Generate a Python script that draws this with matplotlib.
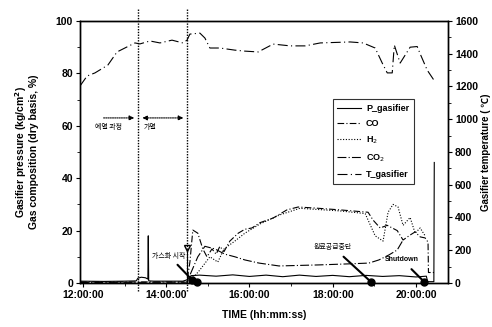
import matplotlib
matplotlib.use("Agg")
import matplotlib.pyplot as plt
from matplotlib.ticker import FuncFormatter, MultipleLocator
import matplotlib.transforms as mtransforms

plt.rcParams['font.family'] = ['Liberation Sans', 'Noto Sans CJK KR', 'DejaVu Sans']

# ---- data (time in hours of day) ----
t_T = [11.93, 12.10, 12.29, 12.60, 12.82, 13.25, 13.37, 13.61, 13.85, 14.14, 14.40, 14.50,
       14.57, 14.81, 14.93, 15.05, 15.29, 15.65, 15.89, 16.21, 16.57, 16.98, 17.34, 17.70,
       18.42, 18.73, 19.02, 19.19, 19.31, 19.43, 19.48, 19.62, 19.86, 20.03, 20.10, 20.27, 20.46]
T_gasifier = [1203, 1264, 1283, 1331, 1411, 1466, 1460, 1478, 1466, 1483, 1466, 1483,
              1520, 1526, 1496, 1435, 1435, 1422, 1416, 1411, 1459, 1448, 1448, 1466,
              1472, 1466, 1435, 1343, 1283, 1283, 1453, 1343, 1440, 1444, 1400, 1300, 1228]

t_CO = [11.93, 14.45, 14.50, 14.57, 14.64, 14.76, 14.88, 14.98, 15.10, 15.20, 15.29, 15.39,
        15.53, 15.73, 15.89, 16.06, 16.25, 16.57, 16.90, 17.17, 17.58, 18.18, 18.85, 18.97,
        19.14, 19.31, 19.55, 19.69, 19.86, 19.98, 20.10, 20.22, 20.29, 20.30, 20.44]
CO = [0.4, 0.4, 0.5, 8, 20.2, 19, 13, 10, 13, 11, 14, 12,
      16, 19, 20.5, 21, 23, 24.8, 27.9, 29, 28.6, 27.9, 27, 24,
      21, 22, 20, 16.4, 18.3, 19.5, 17.6, 17.2, 15.6, 4, 4]

t_H2 = [14.50, 14.57, 14.81, 15.05, 15.24, 15.39, 15.65, 15.89, 16.25, 16.73, 17.21, 18.18,
        18.78, 19.02, 19.21, 19.33, 19.45, 19.57, 19.69, 19.86, 19.98, 20.10, 20.22]
H2 = [0.3, 0.5, 5, 10, 8, 13, 16, 19, 22.5, 26, 28.5, 27.5,
      26.5, 18, 16, 27, 30, 29, 22, 25, 19, 21, 18]

t_CO2 = [11.93, 14.50, 14.57, 14.76, 14.93, 15.17, 15.41, 15.65, 15.89, 16.23, 16.71, 17.67,
         18.39, 18.87, 19.11, 19.35, 19.55, 19.69]
CO2 = [0.2, 0.3, 3, 10, 14, 13, 11, 10, 8.8, 7.6, 6.5, 6.9,
       7.3, 7.6, 8.8, 10.7, 12.6, 16.4]

t_P = [11.93, 12.50, 13.00, 13.28, 13.32, 13.40, 13.50, 13.56, 13.57, 13.58, 13.70, 14.40,
       14.50, 14.60, 14.80, 15.20, 15.60, 16.00, 16.40, 16.80, 17.20, 17.60, 18.00, 18.40,
       18.80, 19.20, 19.60, 20.00, 20.25, 20.28, 20.40, 20.43, 20.44]
P_gasifier = [0.7, 0.6, 0.7, 0.8, 1.8, 2.2, 2.0, 1.5, 18, 0.8, 0.7, 0.7,
              1.2, 2.8, 3.0, 2.6, 3.1, 2.5, 3.0, 2.4, 3.0, 2.5, 2.9, 2.4,
              2.9, 2.5, 2.8, 2.3, 2.6, 0.5, 0.5, 0.5, 46]

event_times = [13.32, 14.50]

fig = plt.figure(figsize=(4.92, 3.27), dpi=100)
ax = fig.add_axes([0.1626, 0.1346, 0.748, 0.8012])
ax2 = ax.twinx()

lw = 0.8
l_P, = ax.plot(t_P, P_gasifier, color='black', lw=lw, ls='-', label='P_gasifier')
l_CO, = ax.plot(t_CO, CO, color='black', lw=lw, ls=(0, (6, 2, 1, 2)), label='CO')
l_H2, = ax.plot(t_H2, H2, color='black', lw=lw, ls=(0, (1, 1.5)), label='H$_2$')
l_CO2, = ax.plot(t_CO2, CO2, color='black', lw=lw, ls=(0, (8, 2, 1, 2)), label='CO$_2$')
l_T, = ax2.plot(t_T, T_gasifier, color='black', lw=lw, ls=(0, (9, 3, 1, 3)), label='T_gasifier')

ax.set_xlim(11.93, 20.77)
ax.set_ylim(0, 100)
ax2.set_ylim(0, 1600)

ax.xaxis.set_major_locator(MultipleLocator(2))
ax.xaxis.set_minor_locator(MultipleLocator(1))
ax.xaxis.set_major_formatter(FuncFormatter(lambda v, p: f"{int(round(v)):02d}:00:00"))
ax.yaxis.set_major_locator(MultipleLocator(20))
ax.yaxis.set_minor_locator(MultipleLocator(10))
ax2.yaxis.set_major_locator(MultipleLocator(200))
ax2.yaxis.set_minor_locator(MultipleLocator(100))

for a in (ax, ax2):
    a.tick_params(which='major', length=3, width=0.8, labelsize=7.5, direction='out', pad=2)
    a.tick_params(which='minor', length=2, width=0.6, direction='out')
    for lab in a.get_xticklabels() + a.get_yticklabels():
        lab.set_fontweight('bold')
    for s in a.spines.values():
        s.set_linewidth(1.0)

ax.set_xlabel('TIME (hh:mm:ss)', fontsize=7.5, fontweight='bold', labelpad=7)
ax.set_ylabel('Gasifier pressure (kg/cm$^{\\mathbf{2}}$)\nGas composition (dry basis, %)',
              fontsize=7.5, fontweight='bold', labelpad=12, linespacing=1.05)
ax2.set_ylabel('Gasifier temperature ( \u2103)', fontsize=7, fontweight='bold',
               labelpad=2, rotation=90)

# event dotted vertical lines
trans = mtransforms.blended_transform_factory(ax.transData, ax.transAxes)
for et in event_times:
    ax.plot([et, et], [-0.03, 1.045], transform=trans, color='black', lw=1.0,
            ls=(0, (1, 1)), clip_on=False)

# phase arrows
ax.annotate('', xy=(13.30, 63), xytext=(12.43, 63),
            arrowprops=dict(arrowstyle='-|>', color='black', lw=0.8, ls=(0, (1, 1)),
                            mutation_scale=7))
ax.annotate('', xy=(14.48, 63), xytext=(13.36, 63),
            arrowprops=dict(arrowstyle='<|-|>', color='black', lw=0.8, ls=(0, (1, 1)),
                            mutation_scale=7))
kfont = ['Noto Sans CJK KR', 'DejaVu Sans']
ax.text(12.62, 59.5, '예열 과정', fontsize=5, family=kfont, ha='center', va='center')
ax.text(13.62, 59.5, '가열', fontsize=5, family=kfont, ha='center', va='center')

# event annotations with black dots
ax.annotate('가스화 시작', xy=(14.62, 1.2), xytext=(14.07, 10.3), fontsize=5, family=kfont,
            ha='center', va='center',
            arrowprops=dict(arrowstyle='-', color='black', lw=1.5, shrinkA=2, shrinkB=0))
ax.plot([14.62], [1.2], 'o', color='black', ms=5, clip_on=False, zorder=5)
ax.plot([14.73], [0.3], 'o', color='black', ms=5, clip_on=False, zorder=5)
ax.plot([14.50, 14.50], [12, 0], color='black', lw=0.8)
ax.plot([14.50], [13.5], marker='v', mfc='none', mec='black', ms=4)

ax.annotate('원료공급중단', xy=(18.92, 0.4), xytext=(18.01, 13.7), fontsize=5, family=kfont,
            ha='center', va='center',
            arrowprops=dict(arrowstyle='-', color='black', lw=1.5, shrinkA=3, shrinkB=0))
ax.plot([18.92], [0.4], 'o', color='black', ms=5, clip_on=False, zorder=5)

ax.annotate('Shutdown', xy=(20.2, 0.4), xytext=(19.67, 8.8), fontsize=5, fontweight='bold',
            ha='center', va='center',
            arrowprops=dict(arrowstyle='-', color='black', lw=1.5, shrinkA=3, shrinkB=0))
ax.plot([20.2], [0.4], 'o', color='black', ms=5, clip_on=False, zorder=5)

# legend
handles = [l_P, l_CO, l_H2, l_CO2, l_T]
leg = ax.legend(handles=handles, loc='upper left', bbox_to_anchor=(0.674, 0.718),
                frameon=True, fancybox=False, edgecolor='black',
                handlelength=2.6, labelspacing=0.7, borderpad=0.5, handletextpad=0.6,
                prop={'weight': 'bold', 'size': 6.5})
leg.get_frame().set_linewidth(0.8)
ax.set_zorder(ax2.get_zorder() + 1)
ax.patch.set_visible(False)

fig.savefig('out.png', dpi=100)
